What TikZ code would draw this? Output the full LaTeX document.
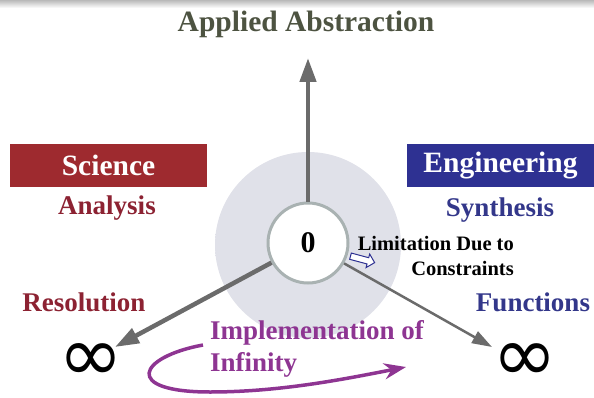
\documentclass[tikz,border=0pt]{standalone}
\usepackage{fontspec}
\setmainfont{Liberation Serif}
\newfontfamily\symfont{DejaVu Sans}
\usetikzlibrary{positioning, shapes.arrows, arrows.meta}

\definecolor{titlegray}{HTML}{4D5341}
\definecolor{sciencered}{HTML}{9E2A2F}
\definecolor{sciencetext}{HTML}{8C2232}
\definecolor{engblue}{HTML}{2E3192}
\definecolor{engtext}{HTML}{33378A}
\definecolor{implpurple}{HTML}{8E3592}
\definecolor{axisgray}{HTML}{6B6B6B}
\definecolor{halogray}{HTML}{E0E1E9}
\definecolor{ringgray}{HTML}{A9B2B2}

\pgfdeclareradialshading{halo}{\pgfpointorigin}{color(0bp)=(halogray); color(34bp)=(halogray); color(50bp)=(white)}

\tikzset{
  label text/.style={font=\bfseries\fontsize{27}{32}\selectfont, inner sep=0pt},
  head box/.style={font=\bfseries\fontsize{29.5}{30}\selectfont, text=white, minimum height=43pt, inner sep=0pt},
  axis/.style={draw=axisgray, line width=4.5pt, -{Triangle[length=24pt, width=16pt]}},
  inf sign/.style={font=\symfont\fontsize{60}{60}\selectfont, inner sep=0pt, scale=1.3, transform shape},
}

\begin{document}
\begin{tikzpicture}[x=1pt, y=1pt]
    \useasboundingbox (0,0) rectangle (594,397);
    \shade[top color=gray!55, bottom color=white] (0,389) rectangle (594,397);
    \shade[shading=halo] (308,152) circle (93);

    \node[font=\bfseries\fontsize{29.5}{30}\selectfont, text=titlegray] (title) at (306,373) {Applied Abstraction};

    % centre and the three axes
    \node[circle, draw=ringgray, line width=3pt, fill=white, minimum size=80pt,
        font=\bfseries\fontsize{30}{30}\selectfont] (zero) at (308,154) {0};
    \coordinate (apex) at (308,339);
    \coordinate (resolve) at (115,50);
    \coordinate (function) at (492,50);
    \draw[axis] (zero) -- (apex);
    \draw[axis] (zero) -- (resolve);
    \draw[axis, line width=2.5pt, -{Triangle[length=20pt, width=13pt]}] (zero) -- (function);

    \node[head box, fill=sciencered, minimum width=197pt] (science) at (108.5,231.5) {Science};
    \node[head box, fill=engblue, minimum width=187pt] (engineering) at (500.5,231.5) {Engineering};
    \node[label text, text=sciencetext] (analysis) at (107,189) {Analysis};
    \node[label text, text=engtext] (synthesis) at (500,187) {Synthesis};
    \node[label text, text=sciencetext] (resolution) at (84,95) {Resolution};
    \node[label text, text=engtext] (functions) at (533,95) {Functions};

    \node[font=\bfseries\fontsize{20.5}{25}\selectfont, align=right, anchor=east, inner sep=0pt] (limits) at (514,141) {Limitation Due to\\Constraints};
    \node[single arrow, draw=engblue, fill=white, line width=1pt, minimum height=25pt, minimum width=14pt,
        single arrow head extend=3.5pt, inner sep=2.5pt, rotate=-15] (limit arrow) at (361,138) {};

    \node[inf sign] (inf left) at (91,34) {∞};
    \node[inf sign] (inf right) at (525,34) {∞};

    % implementation of infinity
    \node[label text, text=implpurple, align=left, anchor=west] (impl) at (210,48) {Implementation of\\Infinity};
    \coordinate (impl start) at (203,52);
    \coordinate (impl end) at (406,30);
    \draw[implpurple, line width=3.5pt, -{Stealth[length=22pt, width=16pt]}] (impl start)
        .. controls (138,40) and (122,5) .. (210,5) .. controls (280,5) and (345,18) .. (impl end);
\end{tikzpicture}
\end{document}
